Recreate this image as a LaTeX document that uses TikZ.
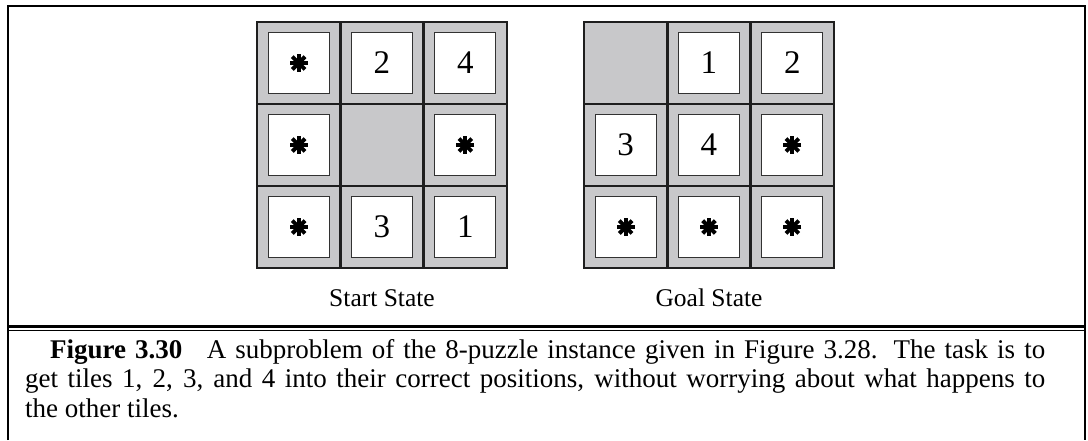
\documentclass[tikz,border=0pt]{standalone}
\usepackage{fontspec}
\setmainfont{Liberation Serif}
\definecolor{cellgray}{RGB}{200,200,202}
\definecolor{gridblack}{RGB}{30,30,30}
\definecolor{tileedge}{RGB}{50,50,50}
\tikzset{
  frameline/.style={line width=2pt, black},
  gridline/.style={line width=2.6pt, gridblack},
  tile/.style={draw=tileedge, line width=1.1pt, fill=white, minimum width=61pt, minimum height=61pt, inner sep=0pt,
    font=\fontsize{33}{33}\selectfont},
  statelabel/.style={anchor=base, inner sep=0pt, font=\fontsize{25.5}{30}\selectfont},
  capline/.style={anchor=base west, inner sep=0pt, font=\fontsize{27}{30}\selectfont},
  spoke/.style={line width=4pt, black}
}
\newcommand\mystar[1]{%
  \fill[black] (#1) circle (5pt);
  \foreach \ang in {0,45,90,135}{
    \draw[spoke] ([shift={(\ang:9pt)}]#1.center) -- ([shift={(\ang+180:9pt)}]#1.center);
  }%
}
\begin{document}
\begin{tikzpicture}[x=1pt,y=-1pt]
\useasboundingbox (0,0) rectangle (1088,440);
\fill[white] (0,0) rectangle (1088,440);
% frame
\draw[frameline] (7.7,440) -- (7.7,6) -- (1085,6) -- (1085,440);
\draw[line width=2.3pt] (7.7,326.5) -- (1085,326.5);
\draw[line width=1.3pt] (7.7,330.2) -- (1085,330.2);
% boards
\foreach \bx in {257,584}{
  \fill[cellgray] (\bx,22) rectangle ++(250,246);
  \draw[gridline] (\bx,22) rectangle ++(250,246);
  \draw[gridline] (\bx+83.33,22) -- ++(0,246);
  \draw[gridline] (\bx+166.67,22) -- ++(0,246);
  \draw[gridline] (\bx,104) -- ++(250,0);
  \draw[gridline] (\bx,186) -- ++(250,0);
}
% start state tiles
\node[tile] (s00) at (298.67,63) {};
\node[tile] (s01) at (381.99,63) {2};
\node[tile] (s02) at (465.33,63) {4};
\node[tile] (s10) at (298.67,145) {};
\node[tile] (s12) at (465.33,145) {};
\node[tile] (s20) at (298.67,227) {};
\node[tile] (s21) at (381.99,227) {3};
\node[tile] (s22) at (465.33,227) {1};
\mystar{s00}\mystar{s10}\mystar{s12}\mystar{s20}
% goal state tiles
\node[tile] (g01) at (708.99,63) {1};
\node[tile] (g02) at (792.33,63) {2};
\node[tile] (g10) at (625.67,145) {3};
\node[tile] (g11) at (708.99,145) {4};
\node[tile] (g12) at (792.33,145) {};
\node[tile] (g20) at (625.67,227) {};
\node[tile] (g21) at (708.99,227) {};
\node[tile] (g22) at (792.33,227) {};
\mystar{g12}\mystar{g20}\mystar{g21}\mystar{g22}
% labels
\node[statelabel] (startlbl) at (382,306) {Start State};
\node[statelabel] (goallbl) at (709,306) {Goal State};
% caption
\node[capline] (cap1) at (50,358) {\makebox[995pt][s]{\textbf{Figure 3.30}\hspace{0.9em}A subproblem of the 8-puzzle instance given in Figure 3.28. The task is to}};
\node[capline] (cap2) at (25,387.5) {\makebox[1020pt][s]{get tiles 1, 2, 3, and 4 into their correct positions, without worrying about what happens to}};
\node[capline] (cap3) at (25,417) {the other tiles.};
\end{tikzpicture}
\end{document}
